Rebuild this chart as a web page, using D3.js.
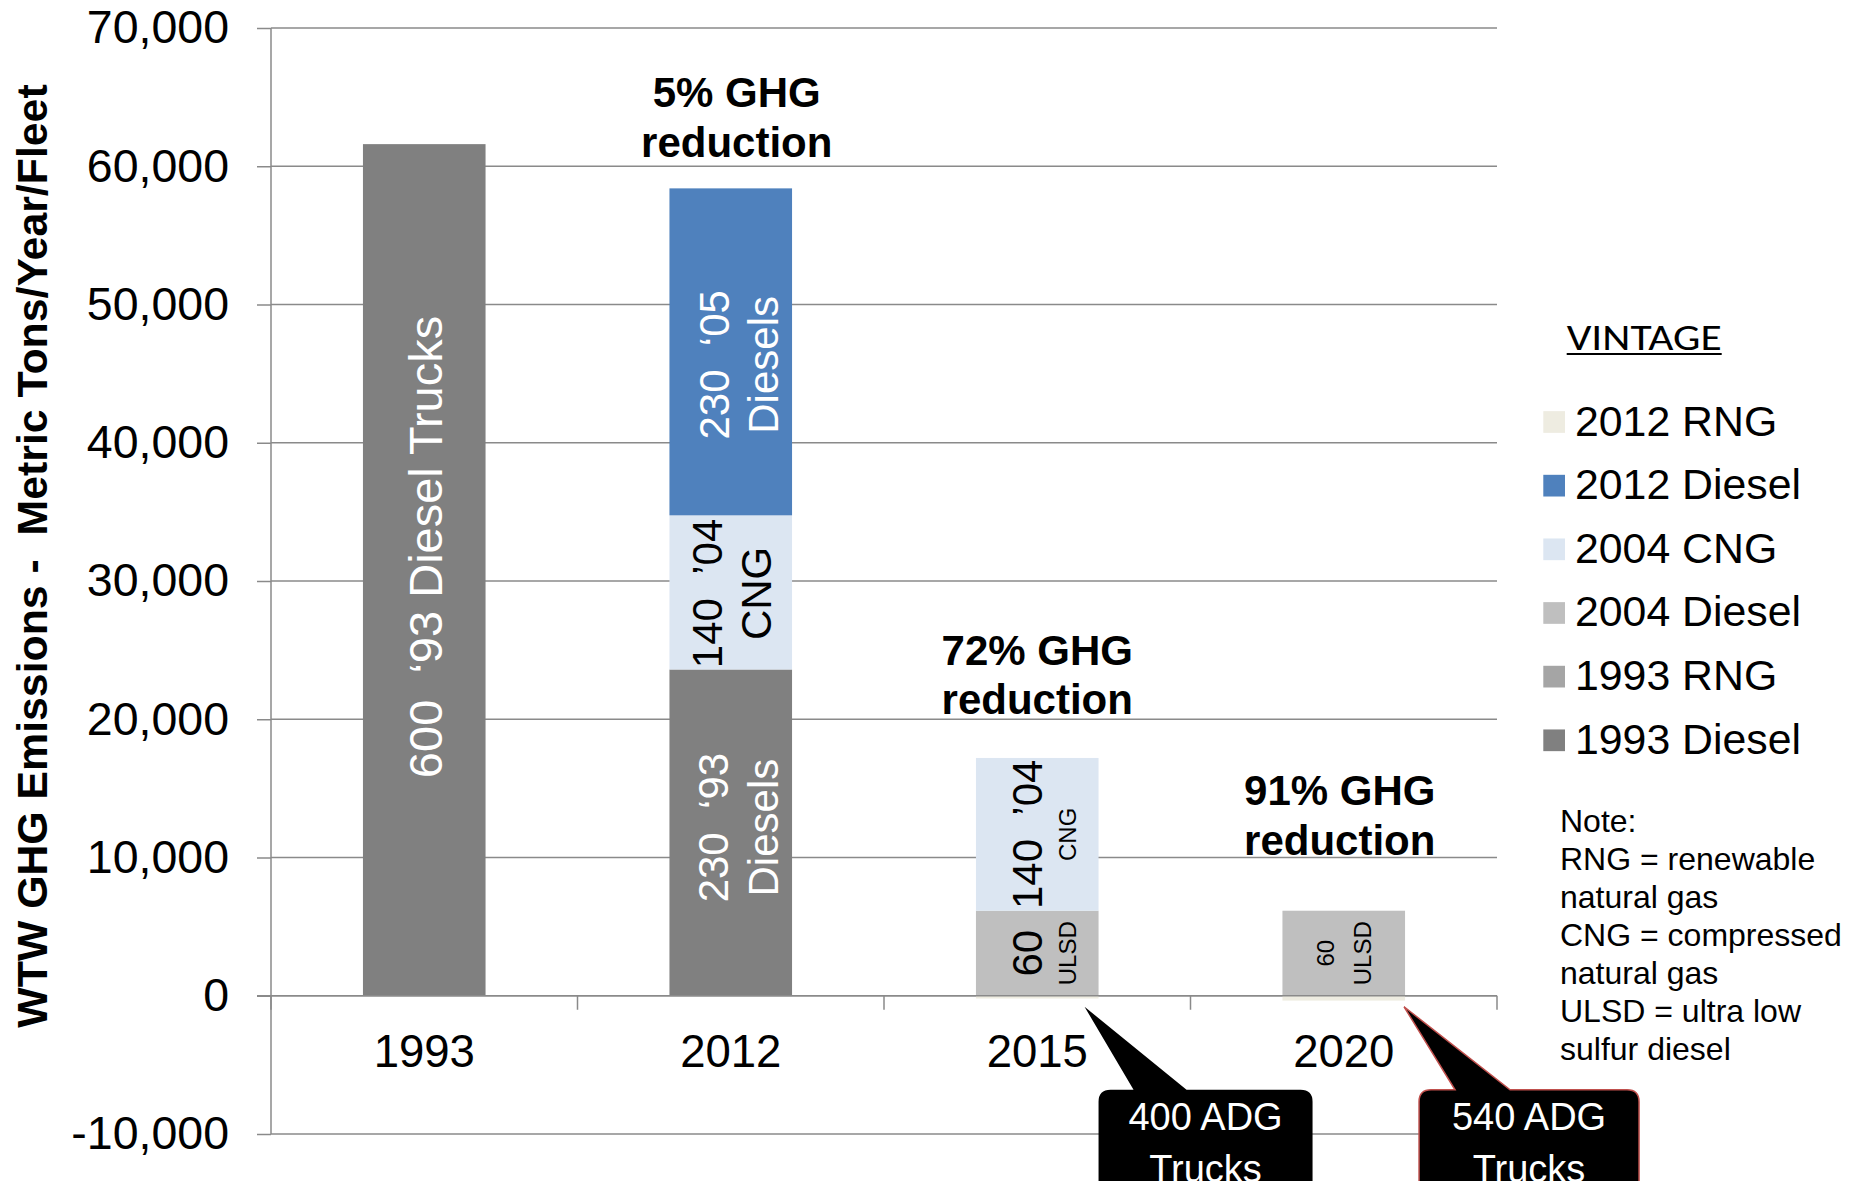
<!DOCTYPE html>
<html>
<head>
<meta charset="utf-8">
<script src="https://cdn.jsdelivr.net/npm/d3@7"></script>
<style>
  body { margin: 0; background: #fff; }
  text { font-family: "Liberation Sans", Arial, sans-serif; white-space: pre; }
</style>
</head>
<body>
<svg id="chart"></svg>
<script>
var W = 1860, H = 1181;

// *** values ***
var categories = ["1993", "2012", "2015", "2020"];
var seriesKeys = ["1993 Diesel", "1993 RNG", "2004 Diesel", "2004 CNG", "2012 Diesel", "2012 RNG"];
var diesel1993 = [61600, 23600, 0, 0];
var rng1993    = [0, 0, 0, 0];
var diesel2004 = [0, 0, 6150, 6150];
var cng2004    = [0, 11150, 11050, 0];
var diesel2012 = [0, 23650, 0, 0];
var rng2012    = [0, 0, -200, -350];
var yTicks = [-10000, 0, 10000, 20000, 30000, 40000, 50000, 60000, 70000];
var legendKeys = ["2012 RNG", "2012 Diesel", "2004 CNG", "2004 Diesel", "1993 RNG", "1993 Diesel"];

var segLabels = [
  {cat: "1993", key: "1993 Diesel", lines: ["600  \u201893 Diesel Trucks"]},
  {cat: "2012", key: "1993 Diesel", lines: ["230  \u201893", "Diesels"]},
  {cat: "2012", key: "2004 CNG",    lines: ["140  \u201904", "CNG"]},
  {cat: "2012", key: "2012 Diesel", lines: ["230  \u201805", "Diesels"]},
  {cat: "2015", key: "2004 Diesel", lines: ["60", "ULSD"]},
  {cat: "2015", key: "2004 CNG",    lines: ["140  \u201904", "CNG"]},
  {cat: "2020", key: "2004 Diesel", lines: ["60", "ULSD"]}
];
var reductionCats = ["2012", "2015", "2020"];
var reductionText = [["5% GHG", "reduction"], ["72% GHG", "reduction"], ["91% GHG", "reduction"]];
var reductionAt = [60700, 20350, 10200];   // value level of the "reduction" line
var calloutCats = ["2015", "2020"];
var calloutText = [["400 ADG", "Trucks"], ["540 ADG", "Trucks"]];
var noteLines = ["Note:", "RNG = renewable", "natural gas", "CNG = compressed",
                 "natural gas", "ULSD = ultra low", "sulfur diesel"];
// **********************************

var colors = {
  "2012 RNG": "#eeece1", "2012 Diesel": "#4f81bd", "2004 CNG": "#dce6f2",
  "2004 Diesel": "#bfbfbf", "1993 RNG": "#a5a5a5", "1993 Diesel": "#808080"
};
// per-label style / nudges (same order as segLabels)
var labelStyle = [
  {fill: "#fff", size: [47],     dx: [1],          up: 23},
  {fill: "#fff", size: [42, 42], dx: [-18, 32],    up: 5},
  {fill: "#000", size: [42, 42], dx: [-24, 25.5],  up: -1},
  {fill: "#fff", size: [42, 42], dx: [-17, 32],    up: -13},
  {fill: "#000", size: [42, 24], dx: [-10.5, 30],  up: 0},
  {fill: "#000", size: [42, 24], dx: [-10.5, 30],  up: 0},
  {fill: "#000", size: [24, 24], dx: [-18.5, 18.5], up: 0}
];
var reductionDx = [6, 0, -4];
var calloutLayout = [
  {tipDx: -14, baseL: 35, baseR: 88,  left: 0,  right: 214, stroke: "none"},
  {tipDx: -1,  baseL: 50, baseR: 105, left: 14, right: 234, stroke: "#c0504d"}
];

var svg = d3.select("#chart").attr("width", W).attr("height", H);

var plot = {left: 271, right: 1497, top: 28, bottom: 1134};

var x = d3.scaleBand().domain(categories).range([plot.left, plot.right])
    .paddingInner(0.6).paddingOuter(0.3);
var y = d3.scaleLinear().domain([-10000, 70000]).range([plot.bottom, plot.top]);

var table = categories.map(function(c, i) {
  return {cat: c, "1993 Diesel": diesel1993[i], "1993 RNG": rng1993[i],
          "2004 Diesel": diesel2004[i], "2004 CNG": cng2004[i],
          "2012 Diesel": diesel2012[i], "2012 RNG": rng2012[i]};
});
var stacked = d3.stack().keys(seriesKeys).offset(d3.stackOffsetDiverging)(table);

var gridColor = "#8a8a8a";

// gridlines
svg.append("g").selectAll("line").data(yTicks).enter().append("line")
  .attr("x1", plot.left).attr("x2", plot.right)
  .attr("y1", function(d) { return y(d); }).attr("y2", function(d) { return y(d); })
  .attr("stroke", gridColor).attr("stroke-width", 1.5);

// y axis
var yAxis = svg.append("g")
  .attr("transform", "translate(" + plot.left + ",0)")
  .call(d3.axisLeft(y).tickValues(yTicks).tickSize(14).tickPadding(28)
    .tickFormat(function(d) { return d3.format(",")(d).replace("\u2212", "-"); }));
yAxis.select(".domain").attr("stroke", gridColor).attr("stroke-width", 1.5)
  .attr("d", "M0," + plot.top + "V" + plot.bottom);
yAxis.selectAll(".tick line").attr("stroke", gridColor).attr("stroke-width", 1.5);
yAxis.selectAll(".tick text").attr("fill", "#000")
  .style("font-size", "46.5px").attr("font-family", null);

// bars
svg.append("g").selectAll("g").data(stacked).enter().append("g")
  .attr("fill", function(s) { return colors[s.key]; })
  .selectAll("rect").data(function(s) { return s.filter(function(d) { return d[1] !== d[0]; }); })
  .enter().append("rect")
    .attr("x", function(d) { return x(d.data.cat); })
    .attr("width", x.bandwidth())
    .attr("y", function(d) { return y(Math.max(d[0], d[1])); })
    .attr("height", function(d) { return Math.abs(y(d[0]) - y(d[1])); });

// x axis at zero, with ticks between categories
var zeroY = y(0);
svg.append("line").attr("x1", plot.left - 14).attr("x2", plot.right)
  .attr("y1", zeroY).attr("y2", zeroY)
  .attr("stroke", gridColor).attr("stroke-width", 1.5);
var bounds = d3.range(categories.length + 1).map(function(i) { return plot.left + i * x.step(); });
svg.append("g").selectAll("line").data(bounds).enter().append("line")
  .attr("x1", function(d) { return d; }).attr("x2", function(d) { return d; })
  .attr("y1", zeroY).attr("y2", zeroY + 14)
  .attr("stroke", gridColor).attr("stroke-width", 1.5);
svg.append("g").selectAll("text").data(categories).enter().append("text")
  .attr("x", function(d) { return x(d) + x.bandwidth() / 2; })
  .attr("y", zeroY + 71)
  .attr("text-anchor", "middle").style("font-size", "45.5px")
  .text(function(d) { return d; });

// labels inside the segments
function segment(cat, key) {
  var s = stacked.find(function(l) { return l.key === key; });
  return s[categories.indexOf(cat)];
}
segLabels.forEach(function(lab, i) {
  var st = labelStyle[i];
  var seg = segment(lab.cat, lab.key);
  var cx = x(lab.cat) + x.bandwidth() / 2;
  var cy = y((seg[0] + seg[1]) / 2);
  var g = svg.append("g").attr("transform", "translate(" + cx + "," + cy + ") rotate(-90)");
  lab.lines.forEach(function(line, j) {
    g.append("text")
      .attr("x", st.up)
      .attr("y", st.dx[j] + 0.36 * st.size[j])
      .attr("text-anchor", "middle")
      .attr("fill", st.fill)
      .style("font-size", st.size[j] + "px")
      .text(line);
  });
});

// reduction notes above the bars
reductionCats.forEach(function(c, i) {
  var cx = x(c) + x.bandwidth() / 2 + reductionDx[i];
  var by = y(reductionAt[i]);
  reductionText[i].forEach(function(line, j) {
    svg.append("text")
      .attr("x", cx).attr("y", by - (reductionText[i].length - 1 - j) * 49.5)
      .attr("text-anchor", "middle")
      .style("font-size", "42px").style("font-weight", "bold")
      .text(line);
  });
});

// callouts
calloutCats.forEach(function(c, i) {
  var L = calloutLayout[i];
  var R = x(c) + x.bandwidth();
  var top = zeroY + 94, tipY = zeroY + 11, r = 12;
  var left = R + L.left, right = R + L.right, bottom = H + 60;
  var p = d3.path();
  p.moveTo(left + r, top);
  p.lineTo(R + L.baseL, top);
  p.lineTo(R + L.tipDx, tipY);
  p.lineTo(R + L.baseR, top);
  p.lineTo(right - r, top);
  p.quadraticCurveTo(right, top, right, top + r);
  p.lineTo(right, bottom);
  p.lineTo(left, bottom);
  p.lineTo(left, top + r);
  p.quadraticCurveTo(left, top, left + r, top);
  p.closePath();
  svg.append("path").attr("d", p.toString())
    .attr("fill", "#000").attr("stroke", L.stroke).attr("stroke-width", 1.5);
  calloutText[i].forEach(function(line, j) {
    svg.append("text")
      .attr("x", (left + right) / 2).attr("y", top + 40 + j * 52)
      .attr("text-anchor", "middle").attr("fill", "#fff")
      .style("font-size", "38px")
      .text(line);
  });
});

// y axis title
svg.append("text")
  .attr("transform", "translate(47," + 556 + ") rotate(-90)")
  .attr("text-anchor", "middle")
  .style("font-size", "42.8px").style("font-weight", "bold")
  .text("WTW GHG Emissions -  Metric Tons/Year/Fleet");

// legend
var leg = svg.append("g");
leg.append("text").attr("x", 1566.7).attr("y", 350)
  .style("font-family", "Carlito, Lato, sans-serif").style("font-size", "37px")
  .attr("textLength", 155).attr("lengthAdjust", "spacingAndGlyphs")
  .text("VINTAGE");
leg.append("line").attr("x1", 1566.7).attr("x2", 1721.7).attr("y1", 354).attr("y2", 354)
  .attr("stroke", "#000").attr("stroke-width", 2.2);
var items = leg.selectAll("g.item").data(legendKeys).enter().append("g")
  .attr("class", "item")
  .attr("transform", function(d, i) { return "translate(0," + (422 + i * 63.66) + ")"; });
items.append("rect").attr("x", 1543.3).attr("y", -10.85).attr("width", 21.7).attr("height", 21.7)
  .attr("fill", function(d) { return colors[d]; });
items.append("text").attr("x", 1575).attr("y", 13.5).style("font-size", "42.8px")
  .text(function(d) { return d; });

// note
svg.append("g").selectAll("text").data(noteLines).enter().append("text")
  .attr("x", 1560).attr("y", function(d, i) { return 831.7 + i * 38.05; })
  .style("font-size", "32px")
  .text(function(d) { return d; });
</script>
</body>
</html>
